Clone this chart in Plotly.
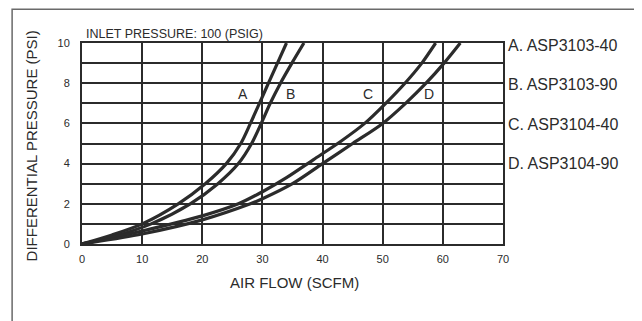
import plotly.graph_objects as go

# air flow (SCFM) vs differential pressure (PSI)
a_flow = [0, 5, 10, 16, 20.5, 24, 26.4, 28, 29.5, 31, 32.5, 34]
a_dp = [0, 0.45, 1, 2, 3, 4, 5, 6, 7, 8, 9, 10]
b_flow = [0, 5, 11.5, 18, 22.6, 26, 28.2, 29.8, 31.3, 33, 34.9, 36.9]
b_dp = [0, 0.35, 1, 2, 3, 4, 5, 6, 7, 8, 9, 10]
c_flow = [0, 10, 20, 26, 30, 34, 38.5, 43, 47, 50.5, 53.7, 56.5, 58.8]
c_dp = [0, 0.65, 1.4, 2, 2.6, 3.3, 4.2, 5.1, 6, 7, 8, 9, 10]
d_flow = [0, 10, 20, 28, 30, 35, 40, 45, 50, 53.8, 57.2, 60.2, 62.9]
d_dp = [0, 0.5, 1.2, 2, 2.25, 3, 4, 5, 6, 7, 8, 9, 10]

series_names = ["A. ASP3103-40", "B. ASP3103-90", "C. ASP3104-40", "D. ASP3104-90"]
curve_letters = ["A", "B", "C", "D"]
letter_x = [26.8, 34.6, 47.6, 57.7]
letter_y = [7.45, 7.45, 7.45, 7.45]

x_ticks = [0, 10, 20, 30, 40, 50, 60, 70]
y_ticks = [0, 2, 4, 6, 8, 10]

INK = "#2b2b2b"
FONT = "Liberation Sans, Arial, sans-serif"

fig = go.Figure()
for fx, fy in [(a_flow, a_dp), (b_flow, b_dp), (c_flow, c_dp), (d_flow, d_dp)]:
    fig.add_trace(go.Scatter(
        x=fx, y=fy, mode="lines",
        line=dict(color=INK, width=3.2, shape="spline", smoothing=0.8),
        cliponaxis=True, showlegend=False, hoverinfo="skip"
    ))

# curve letters inside the plot
for lx, ly, t in zip(letter_x, letter_y, curve_letters):
    fig.add_annotation(x=lx, y=ly, text=t, showarrow=False,
                       font=dict(family=FONT, size=14, color=INK))

# model names on the right, one per gridline pair
for i, name in enumerate(series_names):
    fig.add_annotation(xref="paper", yref="paper", x=1.008, y=0.99 - i * 0.197,
                       text=name, showarrow=False, xanchor="left", yanchor="middle",
                       font=dict(family=FONT, size=16, color=INK))

fig.add_annotation(xref="paper", yref="paper", x=0.004, y=1.0,
                   text="INLET PRESSURE: 100 (PSIG)", showarrow=False,
                   xanchor="left", yanchor="bottom",
                   font=dict(family=FONT, size=12.5, color=INK))
fig.add_annotation(xref="paper", yref="paper", x=-0.119, y=0.49,
                   text="DIFFERENTIAL PRESSURE (PSI)", showarrow=False, textangle=-90,
                   xanchor="center", yanchor="middle",
                   font=dict(family=FONT, size=15, color=INK))
fig.add_annotation(xref="paper", yref="paper", x=0.504, y=-0.194,
                   text="AIR FLOW (SCFM)", showarrow=False,
                   xanchor="center", yanchor="middle",
                   font=dict(family=FONT, size=15, color=INK))

# outer frame and the grey strip at the right edge
fig.add_shape(type="rect", xref="paper", yref="paper", x0=-0.166, x1=1.313,
              y0=-0.45, y1=1.168, line=dict(color="#6a6a6a", width=1.5), layer="below")
fig.add_shape(type="rect", xref="paper", yref="paper", x0=1.319, x1=1.4,
              y0=-0.5, y1=1.3, fillcolor="#e9e9f1", line=dict(width=0), layer="below")

axis_style = dict(showline=True, mirror=True, linecolor=INK, linewidth=2,
                  showgrid=True, gridcolor=INK, gridwidth=1.8, zeroline=False,
                  ticks="", tickfont=dict(family=FONT, size=11, color=INK))

fig.update_xaxes(range=[0, 70], tickvals=x_ticks, ticklabelstandoff=4, **axis_style)
fig.update_yaxes(range=[0, 10], tickvals=y_ticks, ticklabelstandoff=8,
                 minor=dict(dtick=1, showgrid=True, gridcolor=INK, gridwidth=1.8),
                 **axis_style)

# the page body adds an 8px offset, so the figure is shrunk to fit the window
fig.update_layout(
    width=634, height=313, autosize=False,
    margin=dict(l=74, r=139, t=35, b=77),
    plot_bgcolor="white", paper_bgcolor="white",
    showlegend=False
)

fig.write_html("out.html")
